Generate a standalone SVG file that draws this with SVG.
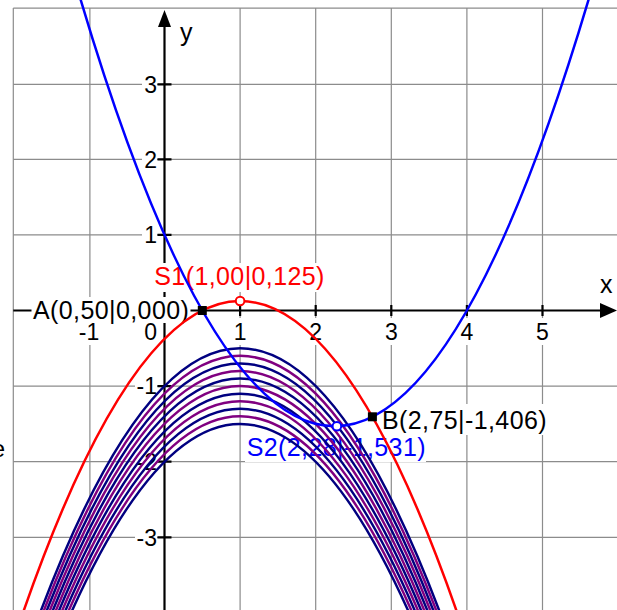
<svg xmlns="http://www.w3.org/2000/svg" xmlns:xlink="http://www.w3.org/1999/xlink" width="617" height="610" viewBox="0 0 617 610">
<style>
.grid{stroke:#8c8c8c;stroke-width:1.2;fill:none}
.axis{stroke:#000;stroke-width:2.2;fill:none}
.tl{font-family:"Liberation Sans",Arial,sans-serif;font-size:23px;fill:#000}
.pl{font-family:"Liberation Sans",Arial,sans-serif;font-size:25px;letter-spacing:0.4px}
.bg{fill:#fff;stroke:none}
.cv{fill:none;stroke-width:2.5}
.navy{stroke:#000080}
.purp{stroke:#800080}
</style>
<defs>
<path id="para" d="M17.08,630 Q240.1,-27.9 463.12,630"/>
</defs>
<rect width="617" height="610" fill="#fff"/>
<g id="grid">
<path class="grid" d="M13.3,8.1V610M89.9,8.1V610M240.1,8.1V610M315.7,8.1V610M391.3,8.1V610M466.9,8.1V610M542.5,8.1V610"/>
<path class="grid" d="M13.3,8.1H617M13.3,84.3H617M13.3,159.3H617M13.3,234.9H617M13.3,386.1H617M13.3,461.7H617M13.3,537.3H617"/>
</g>
<g id="axes">
<line class="axis" x1="13.3" y1="310.5" x2="602" y2="310.5"/>
<polygon points="617,310.5 600,303 600,318" fill="#000"/>
<line class="axis" x1="164.5" y1="610" x2="164.5" y2="25"/>
<polygon points="164.5,10 158,27 171,27" fill="#000"/>
<path class="axis" d="M89.9,305V316M240.1,305V316M315.7,305V316M391.3,305V316M466.9,305V316M542.5,305V316"/>
<path class="axis" d="M157.5,84.3H171.5M157.5,159.3H171.5M157.5,234.9H171.5M157.5,386.1H171.5M157.5,461.7H171.5M157.5,537.3H171.5"/>
<text class="tl" x="600" y="293" style="font-size:25px">x</text>
<text class="tl" x="180" y="41" style="font-size:25px">y</text>
</g>
<g id="ticklabels">
<rect class="bg" x="142" y="75" width="15" height="18"/>
<rect class="bg" x="142" y="150" width="15" height="18"/>
<rect class="bg" x="142" y="226" width="15" height="18"/>
<rect class="bg" x="135" y="377" width="22" height="18"/>
<rect class="bg" x="135" y="452" width="22" height="18"/>
<rect class="bg" x="135" y="528" width="22" height="18"/>
<text class="tl" x="157" y="92.5" text-anchor="end">3</text>
<text class="tl" x="157" y="167.5" text-anchor="end">2</text>
<text class="tl" x="157" y="243.1" text-anchor="end">1</text>
<text class="tl" x="157" y="394.3" text-anchor="end">-1</text>
<text class="tl" x="157" y="469.9" text-anchor="end">-2</text>
<text class="tl" x="157" y="545.5" text-anchor="end">-3</text>
<rect class="bg" x="78" y="318" width="23" height="27"/>
<rect class="bg" x="142" y="318" width="15" height="27"/>
<rect class="bg" x="232" y="318" width="16" height="27"/>
<rect class="bg" x="308" y="318" width="16" height="27"/>
<rect class="bg" x="383" y="318" width="16" height="27"/>
<rect class="bg" x="459" y="318" width="16" height="27"/>
<rect class="bg" x="534" y="318" width="16" height="27"/>
<text class="tl" x="89" y="339.5" text-anchor="middle">-1</text>
<text class="tl" x="157" y="339.5" text-anchor="end">0</text>
<text class="tl" x="240.1" y="339.5" text-anchor="middle">1</text>
<text class="tl" x="315.7" y="339.5" text-anchor="middle">2</text>
<text class="tl" x="391.3" y="339.5" text-anchor="middle">3</text>
<text class="tl" x="466.9" y="339.5" text-anchor="middle">4</text>
<text class="tl" x="542.5" y="339.5" text-anchor="middle">5</text>
<text class="tl" x="5" y="457" text-anchor="end" style="font-size:24px">e</text>
</g>
<g id="pointlabels">
<rect class="bg" x="153" y="263" width="173" height="29"/>
<text class="pl" x="154.3" y="285" fill="#ff0000">S1(1,00|0,125)</text>
<rect class="bg" x="31.5" y="297" width="159" height="26"/>
<text class="pl" x="33" y="318.5" fill="#000">A(0,50|0,000)</text>
<rect class="bg" x="380.5" y="404" width="168" height="31"/>
<text class="pl" x="382" y="429" fill="#000">B(2,75|-1,406)</text>
<rect class="bg" x="245" y="433" width="181" height="29"/>
<text class="pl" x="246.7" y="456" fill="#0000ff">S2(2,28|-1,531)</text>
</g>
<g id="connectors">
<g id="family">
<use xlink:href="#para" class="cv navy" transform="translate(0,47.25)"/>
<use xlink:href="#para" class="cv purp" transform="translate(0,54.81)"/>
<use xlink:href="#para" class="cv navy" transform="translate(0,62.37)"/>
<use xlink:href="#para" class="cv purp" transform="translate(0,69.93)"/>
<use xlink:href="#para" class="cv navy" transform="translate(0,77.49)"/>
<use xlink:href="#para" class="cv purp" transform="translate(0,85.05)"/>
<use xlink:href="#para" class="cv navy" transform="translate(0,92.61)"/>
<use xlink:href="#para" class="cv purp" transform="translate(0,100.17)"/>
<use xlink:href="#para" class="cv navy" transform="translate(0,107.73)"/>
<use xlink:href="#para" class="cv purp" transform="translate(0,115.29)"/>
<use xlink:href="#para" class="cv navy" transform="translate(0,122.85)"/>
</g>
<use id="red-curve" xlink:href="#para" class="cv" stroke="#ff0000"/>
<path id="blue-curve" class="cv" stroke="#0000ff" stroke-width="2.8" d="M77.56,-10.71 Q334.6,863.23 591.64,-10.71"/>
</g>
<g id="A"><rect x="197.8" y="306" width="9" height="9" fill="#000"/></g>
<g id="B"><rect x="367.9" y="412.3" width="9" height="9" fill="#000"/></g>
<g id="S1"><circle cx="240.1" cy="301.05" r="4.3" fill="#fff" stroke="#ff0000" stroke-width="2"/></g>
<g id="S2"><circle cx="336.9" cy="426.2" r="4.3" fill="#fff" stroke="#0000ff" stroke-width="2"/></g>
</svg>
